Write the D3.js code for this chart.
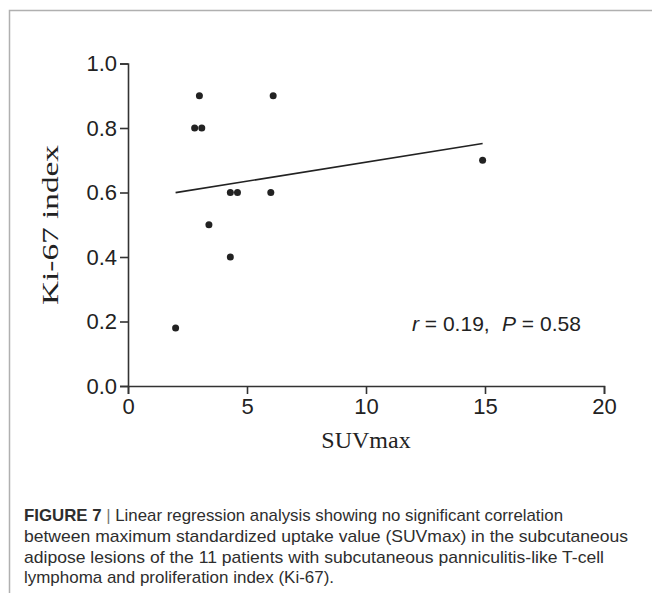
<!DOCTYPE html>
<html>
<head>
<meta charset="utf-8">
<script src="https://cdn.jsdelivr.net/npm/d3@7"></script>
<style>
  body { margin: 0; background: #fff; }
  svg { display: block; }
</style>
</head>
<body>
<div id="chart"></div>
<script>
// SUVmax vs Ki-67
var suvmax = [3.0, 6.1, 2.8, 3.1, 4.3, 4.6, 6.0, 3.4, 4.3, 2.0, 14.9];
var ki67   = [0.9, 0.9, 0.8, 0.8, 0.6, 0.6, 0.6, 0.5, 0.4, 0.18, 0.7];
var xTicks = [0, 5, 10, 15, 20];
var yTicks = [0, 0.2, 0.4, 0.6, 0.8, 1.0];
var captionLines = [
  "Linear regression analysis showing no significant correlation",
  "between maximum standardized uptake value (SUVmax) in the subcutaneous",
  "adipose lesions of the 11 patients with subcutaneous panniculitis-like T-cell",
  "lymphoma and proliferation index (Ki-67)."
];
// right edge of each caption line in the figure
var captionEnds = [563, 628, 604, 334];

var width = 652, height = 593;

var svg = d3.select("#chart").append("svg")
  .attr("width", width)
  .attr("height", height);

// figure frame (top + left rule)
svg.append("path")
  .attr("d", "M9.5," + height + "V10.5H" + width)
  .attr("fill", "none")
  .attr("stroke", "#b0b0b0")
  .attr("stroke-width", 1.5);

var x = d3.scaleLinear().domain([0, 20]).range([128, 604]);
var y = d3.scaleLinear().domain([0, 1]).range([386, 63.5]);

var xAxis = svg.append("g")
  .attr("transform", "translate(0," + y(0) + ")")
  .call(d3.axisBottom(x).tickValues(xTicks).tickSize(8).tickPadding(4).tickFormat(d3.format("d")));

var yAxis = svg.append("g")
  .attr("transform", "translate(" + x(0) + ",0)")
  .call(d3.axisLeft(y).tickValues(yTicks).tickSize(8).tickPadding(3).tickFormat(d3.format(".1f")));

[xAxis, yAxis].forEach(function(g) {
  g.select(".domain").attr("stroke", "#333").attr("stroke-width", 1.6);
  g.selectAll(".tick line").attr("stroke", "#333").attr("stroke-width", 1.6);
  g.selectAll(".tick text")
    .attr("fill", "#222")
    .style("font-family", "Liberation Sans, Arial, sans-serif")
    .style("font-size", "22px");
});

// regression line from the data
var mx = d3.mean(suvmax), my = d3.mean(ki67);
var sxy = 0, sxx = 0;
for (var i = 0; i < suvmax.length; i++) {
  sxy += (suvmax[i] - mx) * (ki67[i] - my);
  sxx += (suvmax[i] - mx) * (suvmax[i] - mx);
}
var slope = sxy / sxx, icpt = my - slope * mx;
var x0 = d3.min(suvmax), x1 = d3.max(suvmax);

svg.append("line")
  .attr("x1", x(x0)).attr("y1", y(icpt + slope * x0))
  .attr("x2", x(x1)).attr("y2", y(icpt + slope * x1))
  .attr("stroke", "#222")
  .attr("stroke-width", 1.6);

svg.selectAll(".dot")
  .data(suvmax.map(function(d, i) { return {x: d, y: ki67[i]}; }))
  .enter().append("circle")
  .attr("class", "dot")
  .attr("cx", function(d) { return x(d.x); })
  .attr("cy", function(d) { return y(d.y); })
  .attr("r", 3.5)
  .attr("fill", "#222");

// axis titles
svg.append("text")
  .attr("x", 366).attr("y", 448)
  .attr("text-anchor", "middle")
  .style("font-family", "Liberation Serif, Times New Roman, serif")
  .style("font-size", "24px")
  .attr("fill", "#222")
  .text("SUVmax");

svg.append("text")
  .attr("transform", "translate(58,225) rotate(-90)")
  .attr("text-anchor", "middle")
  .attr("textLength", 160)
  .attr("lengthAdjust", "spacingAndGlyphs")
  .style("font-family", "Liberation Serif, Times New Roman, serif")
  .style("font-size", "24px")
  .attr("fill", "#222")
  .text("Ki-67 index");

// stats label
var stat = svg.append("text")
  .attr("y", 331)
  .style("font-family", "Liberation Sans, Arial, sans-serif")
  .style("font-size", "21px")
  .attr("fill", "#222");
stat.append("tspan").attr("x", 412).style("font-style", "italic").text("r");
stat.append("tspan").text(" = 0.19,");
stat.append("tspan").attr("x", 502).style("font-style", "italic").text("P");
stat.append("tspan").text(" = 0.58");

// caption
var cap = svg.append("g")
  .style("font-family", "Liberation Sans, Arial, sans-serif")
  .style("font-size", "17px")
  .attr("fill", "#2e2e2e");

var first = cap.append("text").attr("x", 24).attr("y", 521)
  .attr("textLength", captionEnds[0] - 24)
  .attr("lengthAdjust", "spacingAndGlyphs");
first.append("tspan").style("font-weight", "bold").text("FIGURE 7");
first.append("tspan").attr("fill", "#777").text(" | ");
first.append("tspan").text(captionLines[0]);

cap.selectAll(".capline")
  .data(captionLines.slice(1))
  .enter().append("text")
  .attr("class", "capline")
  .attr("x", 24)
  .attr("y", function(d, i) { return 542 + i * 20.5; })
  .attr("textLength", function(d, i) { return captionEnds[i + 1] - 24; })
  .attr("lengthAdjust", "spacingAndGlyphs")
  .text(function(d) { return d; });
</script>
</body>
</html>
